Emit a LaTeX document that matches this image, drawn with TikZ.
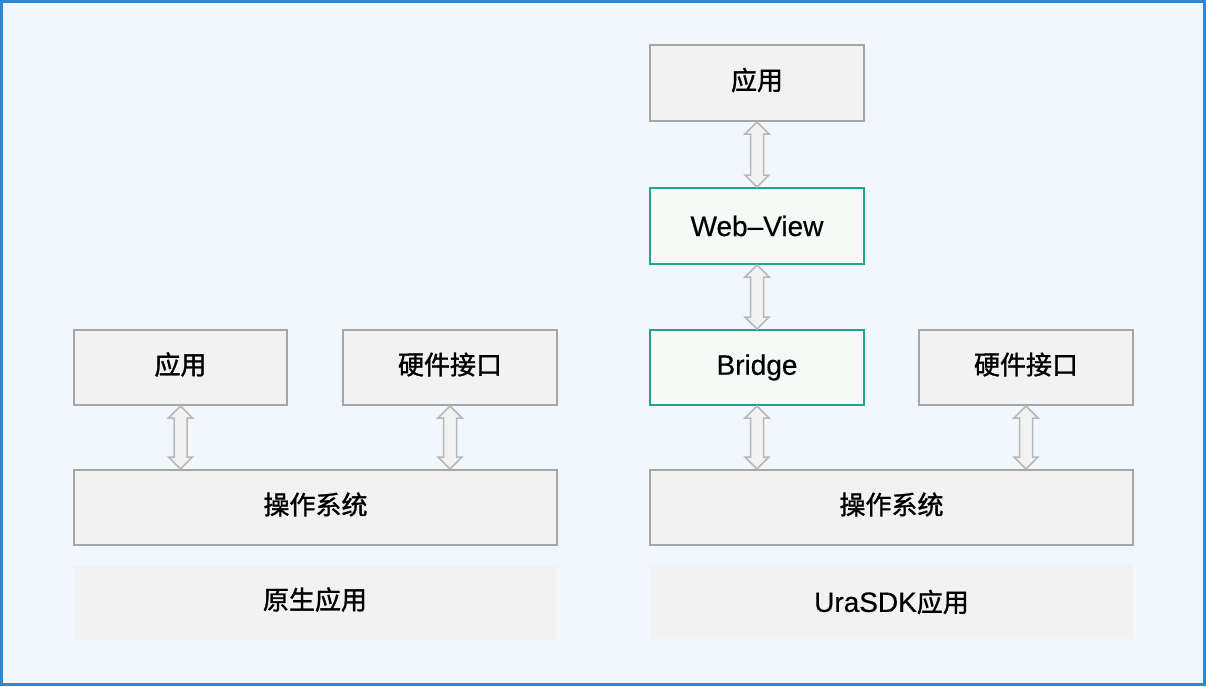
\documentclass[tikz,border=0pt]{standalone}
\usepackage{fontspec}
\setmainfont{Liberation Sans}[FakeBold=0.4]
\newfontfamily\cjk{Noto Sans CJK SC}[FakeBold=1.3]
\usepackage{xcolor}
\usepackage{tikz}
\usetikzlibrary{calc}

\definecolor{frameBlue}{HTML}{2B87D8}
\definecolor{paleBlue}{HTML}{F0F8FE}
\definecolor{boxGray}{HTML}{F2F2F2}
\definecolor{edgeGray}{HTML}{A6A6A6}
\definecolor{arrowGray}{HTML}{B8B8B8}
\definecolor{bridgeTeal}{HTML}{1FA68A}
\definecolor{tealFill}{HTML}{F5FAF6}

\tikzstyle{tsText} = [
    text=black,
    font=\fontsize{28}{32}\selectfont
]
\tikzstyle{tsGrayBox} = [
    rectangle,
    tsText,
    draw=edgeGray,
    line width=2pt,
    fill=boxGray,
    minimum height=75pt,
    inner sep=0pt]
\tikzstyle{tsTealBox} = [
    tsGrayBox,
    draw=bridgeTeal,
    fill=tealFill]
\tikzstyle{tsLabelBox} = [
    rectangle,
    tsText,
    fill=boxGray,
    minimum height=74pt,
    inner sep=0pt]
\tikzstyle{tsArrow} = [
    draw=arrowGray,
    fill=boxGray,
    line width=1.5pt,
    line join=miter]

% hollow two-way arrow from the bottom of #1 to the top of #2
\newcommand{\dblArrow}[2]{%
    \draw[tsArrow] let \p1=(#1.south), \p2=(#2.north) in
        (\x1,\y1) -- ++(12pt,-12pt) -- ++(-5.5pt,0pt)
        -- (\x1+6.5pt,\y2+12pt) -- ++(5.5pt,0pt) -- (\x1,\y2)
        -- ++(-12pt,12pt) -- ++(5.5pt,0pt)
        -- (\x1-6.5pt,\y1-12pt) -- ++(-5.5pt,0pt) -- cycle;}

% Chinese text, a little smaller than the Latin text
\newcommand{\zhText}[1]{{\cjk\fontsize{26}{30}\selectfont #1}}
\newcommand{\zh}[1]{\raisebox{3pt}[\height][\depth]{\zhText{#1}}}

\begin{document}
\begin{tikzpicture}[x=1pt, y=-1pt]

        \useasboundingbox (0,0) rectangle (1206,686);
        \draw[frameBlue, line width=3pt, fill=paleBlue] (1.5,1.5) rectangle (1204.5,684.5);

        % native side
        \node[tsGrayBox, minimum width=213pt] (appL) at (180.5,367.5) {\zh{应用}};
        \node[tsGrayBox, minimum width=214pt] (hwL) at (450,367.5) {\zh{硬件接口}};
        \node[tsGrayBox, minimum width=483pt] (osL) at (315.5,507.5) {\zh{操作系统}};
        \node[tsLabelBox, minimum width=482pt] (nativeTag) at (315,602.5) {\zh{原生应用}};

        % UraSDK side
        \node[tsGrayBox, minimum width=214pt, minimum height=76pt] (appR) at (757,83) {\zh{应用}};
        \node[tsTealBox, minimum width=214pt, minimum height=76pt] (webview) at (757,226) {Web–View};
        \node[tsTealBox, minimum width=214pt] (bridge) at (757,367.5) {Bridge};
        \node[tsGrayBox, minimum width=214pt] (hwR) at (1026,367.5) {\zh{硬件接口}};
        \node[tsGrayBox, minimum width=483pt] (osR) at (891.5,507.5) {\zh{操作系统}};
        \node[tsLabelBox, minimum width=483pt] (uraTag) at (891.5,602) {UraSDK\zhText{应用}};

        \dblArrow{appL}{osL}
        \dblArrow{hwL}{osL}
        \dblArrow{appR}{webview}
        \dblArrow{webview}{bridge}
        \dblArrow{bridge}{osR}
        \dblArrow{hwR}{osR}

\end{tikzpicture}
\end{document}
